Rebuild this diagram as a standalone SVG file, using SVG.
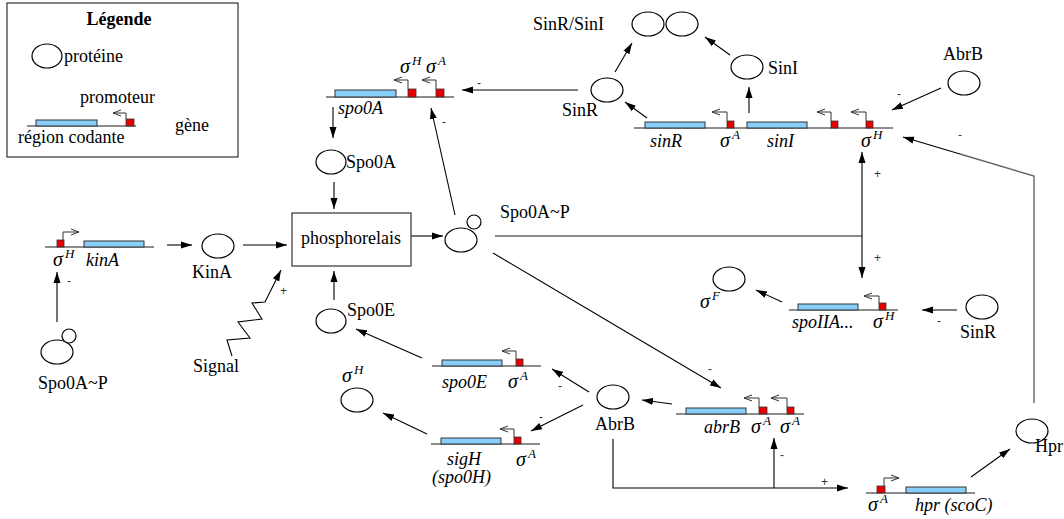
<svg xmlns="http://www.w3.org/2000/svg" width="1064" height="519" viewBox="0 0 1064 519">
<defs>
<marker id="arr" markerUnits="userSpaceOnUse" markerWidth="12" markerHeight="8" refX="11" refY="4" orient="auto"><path d="M0,0.5 L11,4 L0,7.5 z" fill="#000"/></marker>
<marker id="open" markerUnits="userSpaceOnUse" markerWidth="10" markerHeight="8" refX="8" refY="4" orient="auto"><path d="M0,1 L8,4 L0,7" fill="none" stroke="#333" stroke-width="1"/></marker>
<style>
.t{font-family:"Liberation Serif",serif;font-size:18px;fill:#000}
.i{font-style:italic}
.b{font-weight:bold}
.sig{font-family:"Liberation Serif",serif;font-size:20px;font-style:italic;fill:#000}
.sup{font-size:13px;font-style:italic}
.sg{font-family:"Liberation Sans",sans-serif;font-size:12px;fill:#333}
.ln{stroke:#666;stroke-width:1.6;fill:none}
.cds{fill:#87cefa;stroke:#333;stroke-width:1}
.prm{fill:#e60000;stroke:#333;stroke-width:0.8}
.pa{fill:none;stroke:#333;stroke-width:1;marker-end:url(#open)}
.e{fill:#fff;stroke:#000;stroke-width:1.2}
.c{fill:none;stroke:#000;stroke-width:1.1;marker-end:url(#arr)}
.cn{fill:none;stroke:#000;stroke-width:1.1}
.gr{fill:none;stroke:#666;stroke-width:1.4}
</style>
</defs>
<rect width="1064" height="519" fill="#fff"/>

<g id="legend">
<rect x="7" y="3" width="231" height="154" fill="none" stroke="#333" stroke-width="1.2"/>
<text class="t b" x="119" y="25" text-anchor="middle" font-size="17">Légende</text>
<ellipse class="e" cx="47" cy="56" rx="15" ry="12"/>
<text class="t" x="64" y="62">protéine</text>
<text class="t" x="80" y="103" font-size="17">promoteur</text>
<line class="ln" x1="27" y1="126" x2="136" y2="126"/>
<rect class="cds" x="36" y="120" width="61" height="6"/>
<rect class="prm" x="126" y="119" width="8" height="7"/>
<path class="pa" d="M126,119 V113 H113"/>
<text class="t" x="18" y="143" font-size="16">région codante</text>
<text class="t" x="175" y="131">gène</text>
</g>

<g id="connectors">
<path class="c" d="M578,90 H462"/>
<text class="sg" x="477" y="87">-</text>
<path class="c" d="M333,107 V138"/>
<path class="c" d="M334,182 V209"/>
<path class="c" d="M411,236 H443"/>
<path class="c" d="M455,215 L431,108"/>
<text class="sg" x="442" y="126">-</text>
<path class="c" d="M334,300 V271"/>
<path class="c" d="M243,245 H287"/>
<path class="c" d="M167,245 H192"/>
<path class="c" d="M57,322 V272"/>
<text class="sg" x="67" y="285">-</text>
<path class="c" d="M232,356 L227,340 L250,338 L238,322 L262,319 L252,303 L265,302 L281,270"/>
<text class="sg" x="280" y="295">+</text>
<path class="c" d="M422,358 L356,329"/>
<path class="c" d="M427,434 L383,413"/>
<path class="c" d="M589,392 L552,369"/>
<text class="sg" x="558" y="390">-</text>
<path class="c" d="M583,405 L531,431"/>
<text class="sg" x="539" y="421">-</text>
<path class="c" d="M672,404 L642,400"/>
<path class="c" d="M493,253 L721,388"/>
<text class="sg" x="708" y="373">-</text>
<path class="cn" d="M613,439 V488 H680"/>
<path class="c" d="M680,488 H848"/>
<text class="sg" x="821" y="486">+</text>
<path class="c" d="M774,488 V438"/>
<text class="sg" x="780" y="459">-</text>
<path class="c" d="M971,477 L1010,449"/>
<path class="gr" d="M1034,403 V176 L960,154"/>
<path class="c" d="M960,154 L903,137"/>
<text class="sg" x="958" y="139">-</text>
<path class="c" d="M941,88 L892,110"/>
<text class="sg" x="897" y="98">-</text>
<path class="gr" d="M495,236 H862"/>
<path class="c" d="M862,236 V152"/>
<path class="c" d="M862,236 V278"/>
<text class="sg" x="874" y="178">+</text>
<text class="sg" x="874" y="262">+</text>
<path class="c" d="M957,310 H922"/>
<text class="sg" x="937" y="325">-</text>
<path class="c" d="M782,302 L756,290"/>
<path class="c" d="M647,118 L625,102"/>
<path class="c" d="M749,113 V87"/>
<path class="c" d="M615,72 L632,43"/>
<path class="c" d="M730,55 L705,37"/>
</g>

<g id="gene-spo0A">
<line class="ln" x1="326" y1="97" x2="454" y2="97"/>
<rect class="cds" x="335" y="90" width="61" height="7"/>
<rect class="prm" x="408" y="89" width="8" height="8"/>
<path class="pa" d="M408,89 V80 H394"/>
<rect class="prm" x="436" y="89" width="8" height="8"/>
<path class="pa" d="M436,89 V80 H422"/>
<text class="sig" x="400" y="73">σ<tspan class="sup" dx="2" dy="-8">H</tspan></text>
<text class="sig" x="426" y="73">σ<tspan class="sup" dx="2" dy="-8">A</tspan></text>
<text class="t i" x="338" y="114">spo0A</text>
</g>

<g id="Spo0A">
<ellipse class="e" cx="331" cy="162" rx="15" ry="12"/>
<text class="t" x="346" y="168">Spo0A</text>
</g>

<g id="phosphorelais">
<rect x="292" y="213" width="119" height="53" fill="#fff" stroke="#333" stroke-width="1.2"/>
<text class="t" x="351" y="244" text-anchor="middle">phosphorelais</text>
</g>

<g id="Spo0AP">
<ellipse class="e" cx="461" cy="240" rx="16" ry="12"/>
<circle class="e" cx="474" cy="222" r="7"/>
<text class="t" x="500" y="218">Spo0A~P</text>
</g>

<g id="Spo0AP-left">
<ellipse class="e" cx="57" cy="352" rx="16" ry="12"/>
<circle class="e" cx="69" cy="336" r="7"/>
<text class="t" x="38" y="389">Spo0A~P</text>
</g>

<g id="gene-kinA">
<line class="ln" x1="45" y1="247" x2="154" y2="247"/>
<rect class="prm" x="57" y="240" width="7" height="7"/>
<path class="pa" d="M63,240 V232 H79"/>
<rect class="cds" x="84" y="241" width="60" height="6"/>
<text class="sig" x="53" y="266">σ<tspan class="sup" dx="2" dy="-8">H</tspan></text>
<text class="t i" x="86" y="266">kinA</text>
</g>

<g id="KinA">
<ellipse class="e" cx="218" cy="246" rx="16" ry="12"/>
<text class="t" x="192" y="278">KinA</text>
</g>

<g id="Signal">
<text class="t" x="193" y="372">Signal</text>
</g>

<g id="Spo0E">
<ellipse class="e" cx="331" cy="321" rx="15" ry="12"/>
<text class="t" x="347" y="316">Spo0E</text>
</g>

<g id="gene-spo0E">
<line class="ln" x1="432" y1="366" x2="541" y2="366"/>
<rect class="cds" x="442" y="360" width="60" height="6"/>
<rect class="prm" x="516" y="359" width="7" height="7"/>
<path class="pa" d="M516,359 V351 H502"/>
<text class="t i" x="442" y="388">spo0E</text>
<text class="sig" x="508" y="388">σ<tspan class="sup" dx="2" dy="-8">A</tspan></text>
</g>

<g id="gene-sigH">
<line class="ln" x1="431" y1="444" x2="540" y2="444"/>
<rect class="cds" x="441" y="438" width="60" height="6"/>
<rect class="prm" x="514" y="437" width="7" height="7"/>
<path class="pa" d="M514,437 V429 H500"/>
<text class="t i" x="447" y="465">sigH</text>
<text class="t i" x="432" y="483">(spo0H)</text>
<text class="sig" x="516" y="466">σ<tspan class="sup" dx="2" dy="-8">A</tspan></text>
</g>

<g id="sigmaH">
<ellipse class="e" cx="357" cy="400" rx="16" ry="12"/>
<text class="sig" x="342" y="382">σ<tspan class="sup" dx="2" dy="-8">H</tspan></text>
</g>

<g id="AbrB-bottom">
<ellipse class="e" cx="613" cy="397" rx="16" ry="12"/>
<text class="t" x="595" y="430">AbrB</text>
</g>

<g id="gene-abrB">
<line class="ln" x1="676" y1="414" x2="804" y2="414"/>
<rect class="cds" x="686" y="408" width="60" height="6"/>
<rect class="prm" x="759" y="407" width="8" height="7"/>
<path class="pa" d="M759,407 V398 H744"/>
<rect class="prm" x="787" y="407" width="7" height="7"/>
<path class="pa" d="M787,407 V398 H771"/>
<text class="t i" x="704" y="433">abrB</text>
<text class="sig" x="751" y="433">σ<tspan class="sup" dx="2" dy="-8">A</tspan></text>
<text class="sig" x="780" y="433">σ<tspan class="sup" dx="2" dy="-8">A</tspan></text>
</g>

<g id="gene-hpr">
<line class="ln" x1="866" y1="493" x2="975" y2="493"/>
<rect class="prm" x="877" y="486" width="8" height="7"/>
<path class="pa" d="M884,486 V478 H899"/>
<rect class="cds" x="906" y="487" width="60" height="6"/>
<text class="sig" x="868" y="511">σ<tspan class="sup" dx="2" dy="-8">A</tspan></text>
<text class="t i" x="915" y="511">hpr (scoC)</text>
</g>

<g id="Hpr">
<ellipse class="e" cx="1032" cy="431" rx="16" ry="12"/>
<text class="t" x="1035" y="452">Hpr</text>
</g>

<g id="gene-spoIIA">
<line class="ln" x1="789" y1="310" x2="898" y2="310"/>
<rect class="cds" x="798" y="304" width="60" height="6"/>
<rect class="prm" x="879" y="303" width="7" height="7"/>
<path class="pa" d="M879,303 V296 H864"/>
<text class="t i" x="792" y="328">spoIIA...</text>
<text class="sig" x="873" y="328">σ<tspan class="sup" dx="2" dy="-8">H</tspan></text>
</g>

<g id="sigmaF">
<ellipse class="e" cx="729" cy="279" rx="16" ry="12"/>
<text class="sig" x="700" y="308">σ<tspan class="sup" dx="2" dy="-8">F</tspan></text>
</g>

<g id="SinR-right">
<ellipse class="e" cx="982" cy="307" rx="16" ry="12"/>
<text class="t" x="960" y="338">SinR</text>
</g>

<g id="gene-sin">
<line class="ln" x1="634" y1="128" x2="893" y2="128"/>
<rect class="cds" x="645" y="122" width="60" height="6"/>
<rect class="prm" x="727" y="121" width="7" height="7"/>
<path class="pa" d="M727,121 V112 H712"/>
<rect class="cds" x="747" y="122" width="60" height="6"/>
<rect class="prm" x="831" y="121" width="7" height="7"/>
<path class="pa" d="M831,121 V112 H817"/>
<rect class="prm" x="866" y="121" width="7" height="7"/>
<path class="pa" d="M866,121 V112 H851"/>
<text class="t i" x="650" y="147">sinR</text>
<text class="sig" x="720" y="147">σ<tspan class="sup" dx="2" dy="-8">A</tspan></text>
<text class="t i" x="767" y="147">sinI</text>
<text class="sig" x="861" y="147">σ<tspan class="sup" dx="2" dy="-8">H</tspan></text>
</g>

<g id="SinR-top">
<ellipse class="e" cx="607" cy="90" rx="16" ry="12"/>
<text class="t" x="562" y="116">SinR</text>
</g>

<g id="SinI">
<ellipse class="e" cx="747" cy="67" rx="16" ry="12"/>
<text class="t" x="768" y="74">SinI</text>
</g>

<g id="SinR-SinI">
<ellipse class="e" cx="648" cy="24" rx="16" ry="12"/>
<ellipse class="e" cx="682" cy="24" rx="16" ry="12"/>
<text class="t" x="533" y="30">SinR/SinI</text>
</g>

<g id="AbrB-top">
<ellipse class="e" cx="964" cy="83" rx="16" ry="12"/>
<text class="t" x="963" y="60" text-anchor="middle">AbrB</text>
</g>
</svg>
